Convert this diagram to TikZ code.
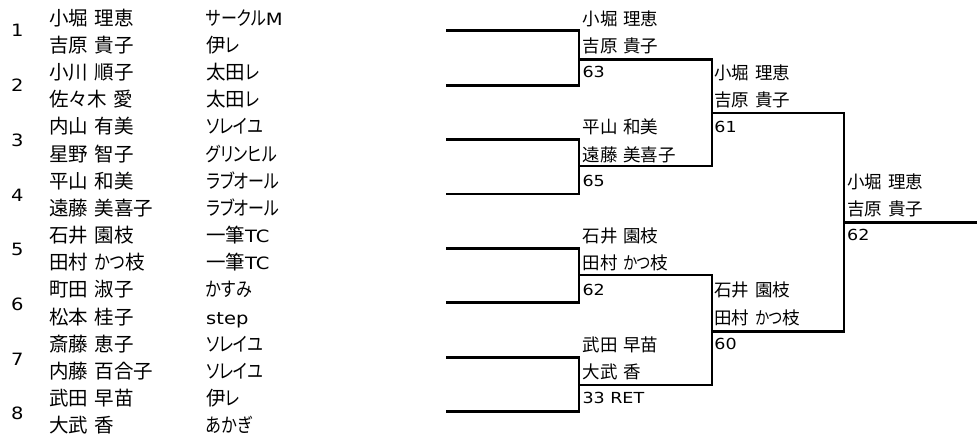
\documentclass[tikz,border=0pt]{standalone}
\usepackage{fontspec}
\setmainfont{Noto Sans CJK JP}[RawFeature={+palt}, WordSpace=1.5]
\newfontfamily\latf{DejaVu Sans}[Scale=0.87, FakeStretch=1.15]
\newfontfamily\kanaf{Noto Sans CJK JP}[RawFeature={+palt}, FakeStretch=0.82, WordSpace=1.5]
\newcommand\La[1]{{\latf #1}}
\newcommand\Lb[1]{\raisebox{1.8pt}{\latf #1}}
\newcommand\kn[1]{{\kanaf #1}}
\tikzset{
  lfont/.style={font=\fontsize{19.5}{20}\selectfont},
  bfont/.style={font=\fontsize{17.5}{18}\selectfont},
  lcell/.style={anchor=base west, inner sep=0pt, lfont},
  bcell/.style={anchor=base west, inner sep=0pt, bfont},
  numst/.style={anchor=center, inner sep=0pt, font=\fontsize{19.5}{20}\selectfont\latf},
  bline/.style={line width=2.8pt, line join=miter, line cap=butt}
}
\begin{document}
\begin{tikzpicture}[x=1pt,y=-1pt]
\fill[white] (0,0) rectangle (977,444);
\useasboundingbox (0,0) rectangle (977,444);
% pair numbers
\foreach \k in {1,...,8}
  \node[numst] (no\k) at (17.3,{30.8+54.7*(\k-1)}) {\k};
% names and clubs
\foreach \k/\n/\c in {1/小堀 理恵/\kn{サークル}\La{M}, 2/吉原 貴子/伊\kn{レ}, 3/小川 順子/太田\kn{レ},
  4/佐々木 愛/太田\kn{レ}, 5/内山 有美/\kn{ソレイユ}, 6/星野 智子/\kn{グリンヒル}, 7/平山 和美/\kn{ラブオール},
  8/遠藤 美喜子/\kn{ラブオール}, 9/石井 園枝/一筆\La{TC}, 10/田村 \kn{かつ}枝/一筆\La{TC},
  11/町田 淑子/\kn{かすみ}, 12/松本 桂子/\La{step}, 13/斎藤 恵子/\kn{ソレイユ}, 14/内藤 百合子/\kn{ソレイユ},
  15/武田 早苗/伊\kn{レ}, 16/大武 香/\kn{あかぎ}}{
  \node[lcell] (nm\k) at (49.2,{25.3+27.16*(\k-1)}) {\n};
  \node[lcell] (cl\k) at (206,{25.3+27.16*(\k-1)}) {\c};
}
% round 1 brackets
\foreach \i/\t/\b in {1/30.7/85.1, 2/139.5/194, 3/248.4/302.8, 4/357.2/411.7}{
  \coordinate (rat\i) at (446,\t);
  \coordinate (rab\i) at (446,\b);
  \draw[bline] (rat\i) -- ++(133,0) |- (rab\i);
}
% round 2 brackets
\foreach \i/\t/\b in {1/59.3/166, 2/275/385}{
  \coordinate (rbt\i) at (579,\t);
  \coordinate (rbb\i) at (579,\b);
  \draw[bline] (rbt\i) -- ++(133,0) |- (rbb\i);
}
% semi-final bracket
\coordinate (rct) at (712,113);
\coordinate (rcb) at (712,331.7);
\draw[bline] (rct) -- ++(132,0) |- (rcb);
% final line
\coordinate (fa) at (844,222.7);
\coordinate (fb) at (977,222.7);
\draw[bline] (fa) -- (fb);
% round 2 column texts
\foreach \k/\t/\nm in {1/小堀 理恵/b1, 2/吉原 貴子/b2, 3/\Lb{63}/b3,
  5/平山 和美/b5, 6/遠藤 美喜子/b6, 7/\Lb{65}/b7,
  9/石井 園枝/b9, 10/田村 \kn{かつ}枝/b10, 11/\Lb{62}/b11,
  13/武田 早苗/b13, 14/大武 香/b14, 15/\Lb{33 RET}/b15}
  \node[bcell] (\nm) at (582.3,{25.3+27.16*(\k-1)}) {\t};
% semi-final column texts
\foreach \k/\t/\nm in {3/小堀 理恵/c3, 4/吉原 貴子/c4, 5/\Lb{61}/c5,
  11/石井 園枝/c11, 12/田村 \kn{かつ}枝/c12, 13/\Lb{60}/c13}
  \node[bcell] (\nm) at (714.2,{25.3+27.16*(\k-1)}) {\t};
% final column texts
\foreach \k/\t/\nm in {7/小堀 理恵/d7, 8/吉原 貴子/d8, 9/\Lb{62}/d9}
  \node[bcell] (\nm) at (847,{25.3+27.16*(\k-1)}) {\t};
\end{tikzpicture}
\end{document}
